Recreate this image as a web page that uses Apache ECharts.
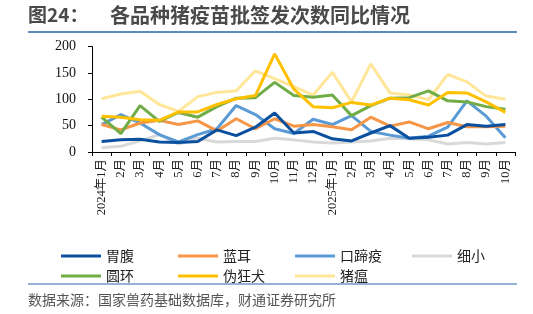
<!DOCTYPE html>
<html><head><meta charset="utf-8">
<script src="https://cdn.jsdelivr.net/npm/echarts@6/dist/echarts.min.js"></script>
<style>html,body{margin:0;padding:0;background:#fff}#c{width:533px;height:314px}</style>
</head><body><div id="c"></div>
<script>
var categories = ['2024年1月','2月','3月','4月','5月','6月','7月','8月','9月','10月','11月','12月','2025年1月','2月','3月','4月','5月','6月','7月','8月','9月','10月'];
var seriesNames = ['胃腹','蓝耳','口蹄疫','细小','圆环','伪狂犬','猪瘟'];
var weifu   = [20,23,24,19,18,20,42,31,47,74,36,39,25,21,36,50,26,28,32,52,49,52];
var lanEr   = [52,42,55,60,52,59,40,63,44,63,49,52,48,42,66,49,57,44,56,48,48,49];
var kouTiYi = [52,71,55,33,19,33,44,88,71,44,35,62,52,69,39,32,26,30,47,97,68,27];
var xiXiao  = [8,11,21,33,15,26,19,20,20,26,23,19,17,19,21,26,25,23,15,18,15,18];
var yuanHuan= [66,35,88,58,75,66,86,102,103,132,107,104,108,69,88,102,103,116,97,95,86,81];
var weiKuang= [68,66,61,60,76,76,90,101,107,186,119,86,84,94,89,102,99,89,113,112,95,75];
var zhuWen  = [101,110,115,90,77,105,113,116,154,139,124,108,151,95,167,112,108,99,147,133,106,100];
var yTicks = [0,50,100,150,200];

var colors = ['#0b4f9f','#f79646','#5b9bd5','#d9d9d9','#70ad47','#ffc000','#ffe699'];
var dataList = [weifu,lanEr,kouTiYi,xiXiao,yuanHuan,weiKuang,zhuWen];

var chart = echarts.init(document.getElementById('c'));
var colX = [56,173,290,407];
var legends = seriesNames.map(function(n,i){
  return {
    data:[n], left: colX[i%4], top: i<4 ? 244 : 264,
    icon:'rect', itemWidth:40, itemHeight:3, itemGap:6,
    textStyle:{fontSize:14, color:'#222', fontFamily:'Noto Sans CJK SC'},
    selectedMode:false
  };
});
var series = seriesNames.map(function(n,i){
  return {
    name:n, type:'line', data:dataList[i], symbol:'none',
    lineStyle:{width:3, color:colors[i]}, itemStyle:{color:colors[i]},
    z: [6,5,4,3,7,8,2][i]
  };
});
chart.setOption({
  animation:false,
  legend: legends,
  grid:{left:92, right:18, top:46.5, bottom:162},
  xAxis:{type:'category', data:categories, boundaryGap:true,
    axisLine:{lineStyle:{color:'#000', width:1}},
    axisTick:{show:true, length:4, lineStyle:{color:'#000'}},
    axisLabel:{rotate:90, fontSize:12.5, color:'#222', margin:7, interval:0, fontFamily:'Liberation Serif, Noto Sans CJK SC'},
    splitLine:{show:false}},
  yAxis:{type:'value', min:0, max:200, interval:50,
    axisLine:{show:true, lineStyle:{color:'#000', width:1}},
    axisTick:{show:true, length:4, lineStyle:{color:'#000'}},
    axisLabel:{fontSize:14, color:'#111', fontFamily:'Liberation Serif', margin:16},
    splitLine:{show:false}},
  series: series,
  graphic:[
    {type:'text', left:28, top:5, style:{text:'图24：', fontSize:19, fontWeight:'bold', fill:'#4a4a4a', fontFamily:'Noto Sans CJK SC'}},
    {type:'text', left:110, top:5, style:{text:'各品种猪疫苗批签发次数同比情况', fontSize:20, fontWeight:'bold', fill:'#4a4a4a', fontFamily:'Noto Sans CJK SC'}},
    {type:'line', shape:{x1:28,y1:32,x2:517,y2:32}, style:{stroke:'#2a64ad', lineWidth:1.5}},
    {type:'line', shape:{x1:28,y1:284,x2:517,y2:284}, style:{stroke:'#2a64ad', lineWidth:1.2}},
    {type:'text', left:28, top:293, style:{text:'数据来源：国家兽药基础数据库，财通证券研究所', fontSize:14, fill:'#555', fontFamily:'Noto Sans CJK SC'}}
  ]
});
</script></body></html>
